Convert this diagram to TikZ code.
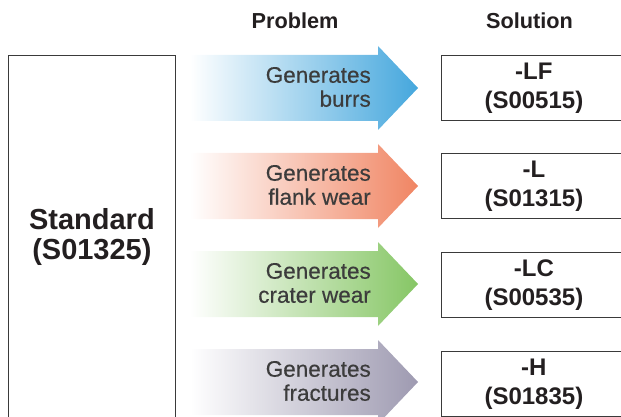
\documentclass[tikz,border=0pt]{standalone}
\usepackage{fontspec}
\setmainfont{Liberation Sans}
\newfontfamily\medfont[FakeBold=0.4]{Liberation Sans}
\usetikzlibrary{positioning}

\definecolor{inkblack}{HTML}{231F20}
\definecolor{textgray}{HTML}{3C3C3C}
\definecolor{boxgray}{HTML}{3A3A3A}
\definecolor{burrblue}{HTML}{45A7DD}
\definecolor{flankred}{HTML}{F08563}
\definecolor{cratergreen}{HTML}{86C665}
\definecolor{fracturegray}{HTML}{9E9AB1}

\tikzset{
    heading/.style = {font=\bfseries\fontsize{21.7}{22}\selectfont , text=inkblack , anchor=base , inner sep=0pt},
    probtext/.style = {align=right , anchor=east , text=textgray , font=\medfont\fontsize{22.5}{24}\selectfont , inner sep=0pt},
    solbox/.style = {draw=boxgray , line width=0.8pt , minimum width=185pt , minimum height=65pt , align=center ,
        anchor=west , text=inkblack , font=\bfseries\fontsize{24}{28.5}\selectfont},
    mainbox/.style = {draw=boxgray , line width=0.8pt , minimum width=167pt , minimum height=364pt , align=center ,
        anchor=north west , text=inkblack , font=\bfseries\fontsize{29}{30}\selectfont}
}

\begin{document}
\begin{tikzpicture}[x = 1pt , y = -1pt]
    \useasboundingbox (0,0) rectangle (621,417);
    \clip (0,0) rectangle (621,417);

    \node[heading] (problem) at (295,29) {Problem};
    \node[heading] (solution) at (529.5,29) {Solution};

    \node[mainbox] (standard) at (8,55) {Standard\\(S01325)};

    % Βέλη προβλημάτων
    \foreach \yc/\col/\name/\txt in {88/burrblue/burrs/{Generates\\burrs},
                                     186/flankred/flank/{Generates\\flank wear},
                                     284/cratergreen/crater/{Generates\\crater wear},
                                     382/fracturegray/fracture/{Generates\\fractures}} {
        \shade[left color=white , right color=\col] (190,\yc-33) -- (378,\yc-33) -- (378,\yc-42) -- (418,\yc)
            -- (378,\yc+42) -- (378,\yc+33) -- (190,\yc+33) -- cycle;
        \node[probtext] (\name) at (371,\yc-1) {\txt};
    }

    % Λύσεις
    \node[solbox] (lf) at (441,88) {-LF\\(S00515)};
    \node[solbox] (l) at (441,186) {-L\\(S01315)};
    \node[solbox] (lc) at (441,285) {-LC\\(S00535)};
    \node[solbox] (h) at (441,384) {-H\\(S01835)};
\end{tikzpicture}
\end{document}
